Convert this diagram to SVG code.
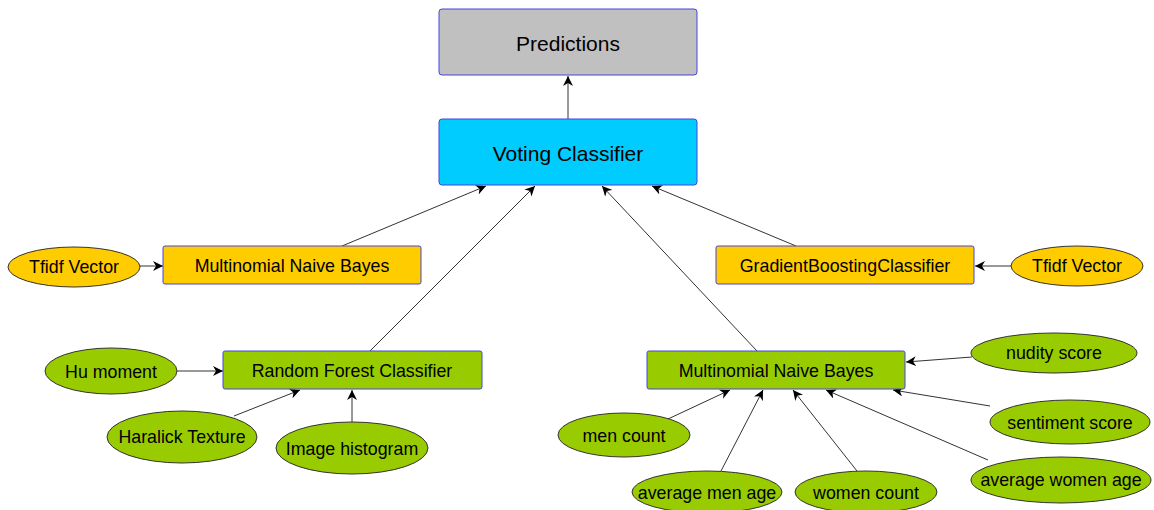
<svg xmlns="http://www.w3.org/2000/svg" width="1154" height="510" viewBox="0 0 1154 510">
<style>
text{font-family:"Liberation Sans",Arial,sans-serif;fill:#000;text-anchor:middle;dominant-baseline:central}
.box{stroke:#4444dd;stroke-width:1}
.ell{stroke:#333;stroke-width:1}
.yel{fill:#ffcc00}.grn{fill:#99cc00}
.t16{font-size:17.8px}.t20{font-size:21px}
#connectors line{stroke:#333;stroke-width:1;marker-end:url(#ah)}
</style>
<defs>
<marker id="ah" viewBox="0 0 10 10" refX="10" refY="5" markerWidth="10" markerHeight="10" markerUnits="userSpaceOnUse" orient="auto">
<path d="M0,0 L10,5 L0,10 L3,5 Z" fill="#000"/>
</marker>
</defs>
<rect width="1154" height="510" fill="#fff"/>
<g id="connectors">
<line x1="568" y1="119" x2="568" y2="76"/>
<line x1="342" y1="246" x2="486" y2="186"/>
<line x1="370" y1="351" x2="535" y2="186"/>
<line x1="757" y1="351" x2="602" y2="186"/>
<line x1="796" y1="246" x2="652" y2="186"/>
<line x1="140" y1="266" x2="163" y2="266"/>
<line x1="1011" y1="266" x2="975" y2="266"/>
<line x1="177" y1="371" x2="223" y2="371"/>
<line x1="234" y1="416" x2="300" y2="390"/>
<line x1="352" y1="422" x2="352" y2="390"/>
<line x1="972" y1="357" x2="906" y2="362"/>
<line x1="990" y1="406" x2="893" y2="390"/>
<line x1="988" y1="460" x2="826" y2="390"/>
<line x1="857" y1="471" x2="793" y2="390"/>
<line x1="721" y1="471" x2="763" y2="390"/>
<line x1="668" y1="419" x2="730" y2="390"/>
</g>
<g id="predictions"><rect class="box" x="439" y="9" width="258" height="66" rx="3" fill="#c0c0c0"/><text class="t20" x="568" y="43">Predictions</text></g>
<g id="voting"><rect class="box" x="439" y="119" width="258" height="66" rx="3" fill="#00ccff"/><text class="t20" x="568" y="153">Voting Classifier</text></g>
<g id="mnb-text"><rect class="box yel" x="163" y="246" width="258" height="38" rx="2"/><text class="t16" x="292" y="266">Multinomial Naive Bayes</text></g>
<g id="gbc"><rect class="box yel" x="716" y="246" width="258" height="38" rx="2"/><text class="t16" x="845" y="266">GradientBoostingClassifier</text></g>
<g id="tfidf-left"><ellipse class="ell yel" cx="74" cy="267" rx="66" ry="20"/><text class="t16" x="74" y="267">Tfidf Vector</text></g>
<g id="tfidf-right"><ellipse class="ell yel" cx="1077" cy="266" rx="66" ry="20"/><text class="t16" x="1077" y="266">Tfidf Vector</text></g>
<g id="rfc"><rect class="box grn" x="223" y="351" width="259" height="38" rx="2"/><text class="t16" x="352" y="371">Random Forest Classifier</text></g>
<g id="hu"><ellipse class="ell grn" cx="111" cy="371" rx="66" ry="23"/><text class="t16" x="111" y="372">Hu moment</text></g>
<g id="haralick"><ellipse class="ell grn" cx="182" cy="437" rx="75" ry="26"/><text class="t16" x="182" y="437">Haralick Texture</text></g>
<g id="histogram"><ellipse class="ell grn" cx="352" cy="448" rx="76" ry="26"/><text class="t16" x="352" y="449">Image histogram</text></g>
<g id="mnb-img"><rect class="box grn" x="647" y="351" width="258" height="38" rx="2"/><text class="t16" x="776" y="371">Multinomial Naive Bayes</text></g>
<g id="nudity"><ellipse class="ell grn" cx="1054" cy="353" rx="83" ry="20"/><text class="t16" x="1054" y="353">nudity score</text></g>
<g id="sentiment"><ellipse class="ell grn" cx="1070" cy="422" rx="80" ry="22"/><text class="t16" x="1070" y="423">sentiment score</text></g>
<g id="avg-women"><ellipse class="ell grn" cx="1061" cy="480" rx="90" ry="23"/><text class="t16" x="1061" y="480">average women age</text></g>
<g id="women-count"><ellipse class="ell grn" cx="866" cy="492" rx="71" ry="21"/><text class="t16" x="866" y="493">women count</text></g>
<g id="avg-men"><ellipse class="ell grn" cx="707" cy="492" rx="75" ry="21"/><text class="t16" x="707" y="493">average men age</text></g>
<g id="men-count"><ellipse class="ell grn" cx="624" cy="435" rx="66" ry="22"/><text class="t16" x="624" y="436">men count</text></g>
</svg>
